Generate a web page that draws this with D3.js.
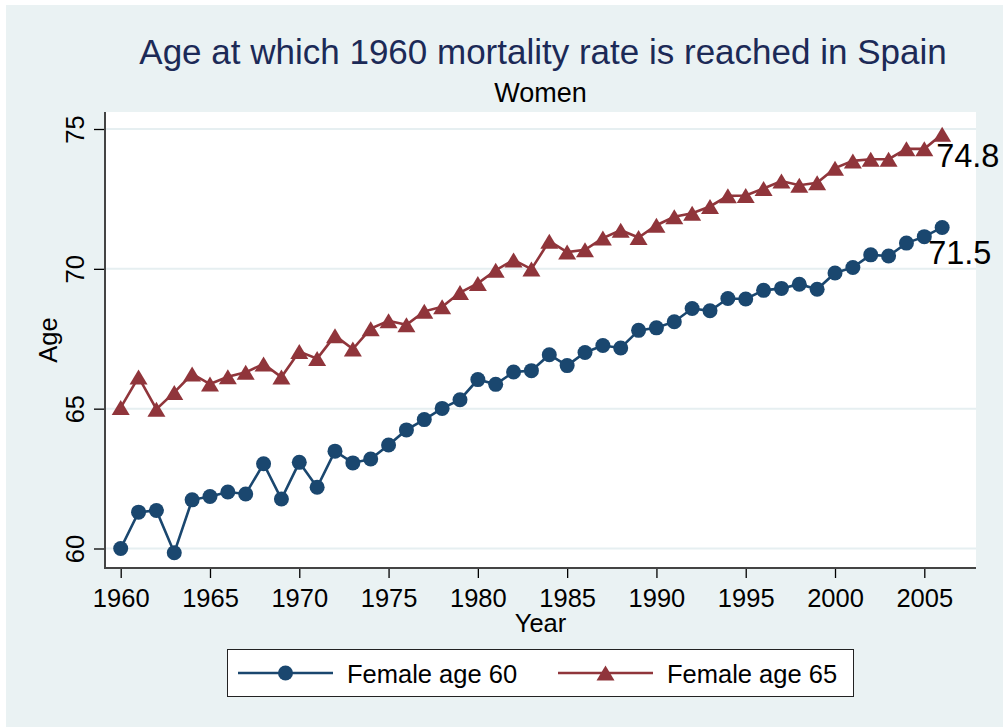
<!DOCTYPE html>
<html>
<head>
<meta charset="utf-8">
<script src="https://cdn.jsdelivr.net/npm/d3@7/dist/d3.min.js"></script>
<style>
  body { margin: 0; background: #ffffff; }
  text { font-family: "Liberation Sans", Arial, sans-serif; }
</style>
</head>
<body>
<div id="chart"></div>
<script>
/*
 *  DATA
 */
var years = [1960, 1961, 1962, 1963, 1964, 1965, 1966, 1967, 1968, 1969,
             1970, 1971, 1972, 1973, 1974, 1975, 1976, 1977, 1978, 1979,
             1980, 1981, 1982, 1983, 1984, 1985, 1986, 1987, 1988, 1989,
             1990, 1991, 1992, 1993, 1994, 1995, 1996, 1997, 1998, 1999,
             2000, 2001, 2002, 2003, 2004, 2005, 2006];

var female60 = [60.00, 61.30, 61.36, 59.85, 61.74, 61.86, 62.02, 61.95, 63.03, 61.77,
                63.08, 62.19, 63.48, 63.06, 63.20, 63.70, 64.24, 64.61, 65.01, 65.32,
                66.04, 65.87, 66.31, 66.36, 66.93, 66.54, 67.01, 67.26, 67.17, 67.80,
                67.89, 68.11, 68.58, 68.50, 68.94, 68.92, 69.23, 69.30, 69.45, 69.27,
                69.85, 70.05, 70.50, 70.46, 70.92, 71.15, 71.48];

var female65 = [65.04, 66.13, 64.98, 65.58, 66.24, 65.88, 66.14, 66.30, 66.60, 66.13,
                67.04, 66.79, 67.61, 67.13, 67.86, 68.14, 68.00, 68.48, 68.64, 69.15,
                69.48, 69.95, 70.32, 69.99, 70.99, 70.60, 70.68, 71.10, 71.38, 71.12,
                71.56, 71.86, 71.99, 72.23, 72.61, 72.62, 72.87, 73.14, 72.99, 73.08,
                73.60, 73.86, 73.92, 73.92, 74.29, 74.29, 74.81];

var xTicks = [1960, 1965, 1970, 1975, 1980, 1985, 1990, 1995, 2000, 2005];
var yTicks = [60, 65, 70, 75];

var seriesNames = ["Female age 60", "Female age 65"];

var titleText = "Age at which 1960 mortality rate is reached in Spain";
var subtitleText = "Women";
var xTitle = "Year";
var yTitle = "Age";

/*
 *  LAYOUT
 */
var W = 1003, H = 727;
var plot = {left: 105, right: 976, top: 112, bottom: 568};
var blue = "#1a476f", red = "#90353b", bg = "#eaf2f3";
var fontSize = 25.5;

var series = [
    {name: seriesNames[0], values: female60, color: blue, symbol: "circle", labelDx: -14, labelDy: 37},
    {name: seriesNames[1], values: female65, color: red, symbol: "triangle", labelDx: -6, labelDy: 33}
];

var svg = d3.select("#chart")
    .append("svg")
        .attr("width", W)
        .attr("height", H);

svg.append("rect")
    .attr("x", 6).attr("y", 5)
    .attr("width", W - 6).attr("height", H - 5)
    .attr("fill", bg);

svg.append("rect")
    .attr("x", plot.left).attr("y", plot.top)
    .attr("width", plot.right - plot.left)
    .attr("height", plot.bottom - plot.top)
    .attr("fill", "#ffffff");

var x_scale = d3.scaleLinear()
    .domain([1960, 2005])
    .range([120.7, 924.3]);
var y_scale = d3.scaleLinear()
    .domain([60, 75])
    .range([548.5, 129]);

// grid lines
svg.append("g")
    .selectAll("line")
    .data(yTicks)
    .enter().append("line")
        .attr("x1", plot.left)
        .attr("x2", plot.right)
        .attr("y1", function(d) { return y_scale(d); })
        .attr("y2", function(d) { return y_scale(d); })
        .attr("stroke", "#e6eff1")
        .attr("stroke-width", 2);

// axes
var x_axis = d3.axisBottom(x_scale)
    .tickValues(xTicks)
    .tickSize(10)
    .tickPadding(10)
    .tickFormat(d3.format("d"));
var y_axis = d3.axisLeft(y_scale)
    .tickValues(yTicks)
    .tickSize(11)
    .tickPadding(0)
    .tickFormat(d3.format("d"));

var gx = svg.append("g")
    .attr("transform", "translate(0," + plot.bottom + ")")
    .call(x_axis);
gx.select(".domain").remove();
gx.selectAll(".tick line").attr("stroke", "#000").attr("stroke-width", 1.3);
gx.selectAll(".tick text")
    .attr("font-size", fontSize)
    .attr("font-family", "Liberation Sans, Arial, sans-serif")
    .attr("fill", "#000")
    .attr("dy", null)
    .attr("y", 38.5);

var gy = svg.append("g")
    .attr("transform", "translate(" + plot.left + ",0)")
    .call(y_axis);
gy.select(".domain").remove();
gy.selectAll(".tick line").attr("stroke", "#000").attr("stroke-width", 1.3);
gy.selectAll(".tick text")
    .attr("font-size", fontSize)
    .attr("font-family", "Liberation Sans, Arial, sans-serif")
    .attr("fill", "#000")
    .attr("x", null).attr("dy", null)
    .attr("text-anchor", "middle")
    .attr("transform", "translate(-21,0) rotate(-90)");

svg.append("line")
    .attr("x1", plot.left).attr("x2", plot.left)
    .attr("y1", plot.top).attr("y2", plot.bottom + 1)
    .attr("stroke", "#444").attr("stroke-width", 2);
svg.append("line")
    .attr("x1", plot.left - 1).attr("x2", plot.right)
    .attr("y1", plot.bottom).attr("y2", plot.bottom)
    .attr("stroke", "#444").attr("stroke-width", 2);

// titles
svg.append("text")
    .attr("x", 543).attr("y", 64)
    .attr("text-anchor", "middle")
    .attr("font-size", 35)
    .attr("fill", "#1c2a57")
    .text(titleText);
svg.append("text")
    .attr("x", 540.5).attr("y", 102)
    .attr("text-anchor", "middle")
    .attr("font-size", 27)
    .attr("fill", "#000")
    .text(subtitleText);
svg.append("text")
    .attr("x", (plot.left + plot.right) / 2).attr("y", 632)
    .attr("text-anchor", "middle")
    .attr("font-size", fontSize)
    .text(xTitle);
svg.append("text")
    .attr("transform", "translate(57," + (plot.top + plot.bottom) / 2 + ") rotate(-90)")
    .attr("text-anchor", "middle")
    .attr("font-size", fontSize)
    .text(yTitle);

/*
 *  SERIES
 */
function triPath(w, h) {
    return "M0," + (-h / 2) + "L" + (w / 2) + "," + (h / 2) + "L" + (-w / 2) + "," + (h / 2) + "Z";
}

function drawMarker(g, s) {
    if (s.symbol == "circle") {
        g.append("circle").attr("r", 7.5).attr("fill", s.color);
    } else {
        g.append("path").attr("d", triPath(18, 15)).attr("fill", s.color);
    }
}

var valueline = d3.line()
    .x(function(d) { return x_scale(d.year); })
    .y(function(d) { return y_scale(d.value); });

series.forEach(function(s) {
    var pts = years.map(function(y, i) { return {year: y, value: s.values[i]}; });

    svg.append("path")
        .datum(pts)
        .attr("fill", "none")
        .attr("stroke", s.color)
        .attr("stroke-width", 2.6)
        .attr("d", valueline);

    svg.append("g")
        .selectAll("g")
        .data(pts)
        .enter().append("g")
            .attr("transform", function(d) { return "translate(" + x_scale(d.year) + "," + y_scale(d.value) + ")"; })
            .each(function() { drawMarker(d3.select(this), s); });

    var last = pts[pts.length - 1];
    svg.append("text")
        .attr("x", x_scale(last.year) + s.labelDx)
        .attr("y", y_scale(last.value) + s.labelDy)
        .attr("font-size", 32.5)
        .attr("fill", "#000")
        .text(last.value.toFixed(1));
});

/*
 *  LEGEND
 */
var legend = svg.append("g");
legend.append("rect")
    .attr("x", 227.5).attr("y", 649.5)
    .attr("width", 626).attr("height", 47)
    .attr("fill", "#fff")
    .attr("stroke", "#222")
    .attr("stroke-width", 1);

var legendItems = [{x: 238, s: series[0]}, {x: 558, s: series[1]}];
legendItems.forEach(function(it) {
    legend.append("line")
        .attr("x1", it.x).attr("x2", it.x + 95)
        .attr("y1", 673).attr("y2", 673)
        .attr("stroke", it.s.color)
        .attr("stroke-width", 2.6);
    var m = legend.append("g").attr("transform", "translate(" + (it.x + 47.5) + ",673)");
    drawMarker(m, it.s);
    legend.append("text")
        .attr("x", it.x + 109).attr("y", 682.5)
        .attr("font-size", fontSize)
        .attr("fill", "#000")
        .text(it.s.name);
});
</script>
</body>
</html>
